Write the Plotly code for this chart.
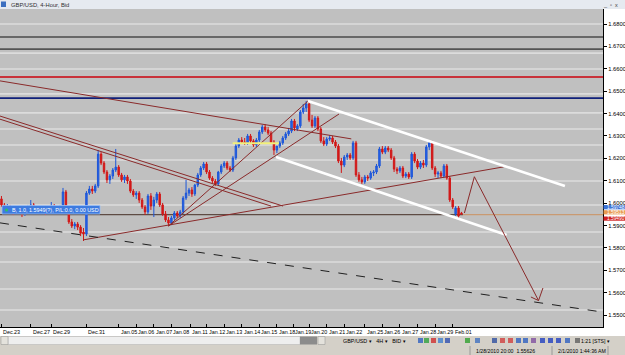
import plotly.graph_objects as go

# ---------------- data (GBP/USD 4-hour bars) ----------------
opens = [1.6019,1.5992,1.5978,1.5987,1.5970,1.5961,1.5974,1.5965,1.5956,1.5970,
         1.5983,1.5992,1.5978,1.5970,1.5974,1.5965,1.5961,1.5974,1.5987,1.5978,
         1.5970,1.5983,1.6050,1.5978,1.5916,1.5898,1.5907,1.5893,1.5871,1.5862,
         1.6045,1.6063,1.6054,1.6077,1.6219,1.6179,1.6139,1.6104,1.6121,1.6148,
         1.6161,1.6126,1.6104,1.6117,1.6099,1.6054,1.6037,1.6045,1.6014,1.5983,
         1.5961,1.6032,1.5987,1.6014,1.6041,1.5992,1.5952,1.5925,1.5911,1.5934,
         1.5956,1.5943,1.5961,1.6023,1.6045,1.6059,1.6041,1.6081,1.6126,1.6157,
         1.6175,1.6139,1.6112,1.6099,1.6086,1.6139,1.6166,1.6179,1.6157,1.6148,
         1.6202,1.6255,1.6282,1.6273,1.6269,1.6300,1.6278,1.6260,1.6282,1.6318,
         1.6340,1.6327,1.6313,1.6273,1.6237,1.6255,1.6269,1.6291,1.6309,1.6322,
         1.6367,1.6331,1.6345,1.6407,1.6425,1.6443,1.6371,1.6345,1.6380,1.6331,
         1.6278,1.6264,1.6286,1.6291,1.6273,1.6255,1.6188,1.6170,1.6206,1.6215,
         1.6202,1.6269,1.6126,1.6104,1.6095,1.6117,1.6112,1.6135,1.6139,1.6166,
         1.6242,1.6228,1.6246,1.6237,1.6202,1.6152,1.6144,1.6157,1.6121,1.6130,
         1.6117,1.6219,1.6188,1.6161,1.6179,1.6170,1.6251,1.6269,1.6157,1.6130,
         1.6135,1.6121,1.6166,1.6112,1.6014,1.5952,1.5978,1.5956]
highs = [1.6032,1.6001,1.5996,1.5992,1.5978,1.5983,1.5987,1.5974,1.5978,1.5992,
         1.6014,1.6001,1.5987,1.5983,1.5983,1.5974,1.5987,1.6005,1.5996,1.5987,
         1.5992,1.6068,1.6059,1.5987,1.5929,1.5916,1.5916,1.5902,1.5889,1.6054,
         1.6077,1.6077,1.6086,1.6237,1.6228,1.6188,1.6148,1.6130,1.6157,1.6242,
         1.6170,1.6135,1.6126,1.6126,1.6108,1.6063,1.6054,1.6054,1.6023,1.5992,
         1.6041,1.6045,1.6028,1.6050,1.6050,1.6001,1.5965,1.5938,1.5943,1.5965,
         1.5965,1.5970,1.6032,1.6104,1.6068,1.6072,1.6086,1.6135,1.6166,1.6184,
         1.6184,1.6148,1.6121,1.6108,1.6144,1.6175,1.6188,1.6188,1.6166,1.6211,
         1.6264,1.6291,1.6295,1.6291,1.6309,1.6309,1.6286,1.6291,1.6327,1.6349,
         1.6353,1.6340,1.6322,1.6282,1.6255,1.6278,1.6300,1.6318,1.6336,1.6376,
         1.6376,1.6353,1.6416,1.6443,1.6456,1.6452,1.6394,1.6389,1.6389,1.6340,
         1.6295,1.6295,1.6304,1.6300,1.6282,1.6264,1.6202,1.6215,1.6224,1.6224,
         1.6278,1.6278,1.6139,1.6117,1.6126,1.6126,1.6144,1.6148,1.6175,1.6251,
         1.6255,1.6255,1.6255,1.6246,1.6211,1.6161,1.6166,1.6166,1.6139,1.6139,
         1.6228,1.6228,1.6197,1.6188,1.6193,1.6260,1.6278,1.6278,1.6166,1.6144,
         1.6144,1.6175,1.6175,1.6121,1.6023,1.5987,1.5987,1.5961]
lows  = [1.5983,1.5965,1.5961,1.5956,1.5947,1.5952,1.5952,1.5938,1.5943,1.5961,
         1.5974,1.5965,1.5956,1.5956,1.5952,1.5947,1.5952,1.5965,1.5961,1.5956,
         1.5956,1.5974,1.5970,1.5907,1.5889,1.5884,1.5880,1.5853,1.5831,1.5853,
         1.6037,1.6041,1.6045,1.6068,1.6170,1.6130,1.6090,1.6086,1.6108,1.6139,
         1.6117,1.6095,1.6090,1.6086,1.6045,1.6028,1.6019,1.6001,1.5974,1.5947,
         1.5952,1.5970,1.5938,1.6001,1.5983,1.5943,1.5916,1.5898,1.5902,1.5925,
         1.5934,1.5934,1.5952,1.6014,1.6032,1.6028,1.6032,1.6072,1.6117,1.6148,
         1.6130,1.6104,1.6090,1.6077,1.6081,1.6130,1.6157,1.6148,1.6139,1.6139,
         1.6193,1.6246,1.6264,1.6260,1.6260,1.6269,1.6251,1.6251,1.6273,1.6309,
         1.6318,1.6304,1.6264,1.6215,1.6224,1.6246,1.6260,1.6282,1.6300,1.6313,
         1.6322,1.6322,1.6336,1.6398,1.6407,1.6362,1.6336,1.6336,1.6322,1.6269,
         1.6255,1.6255,1.6278,1.6264,1.6246,1.6179,1.6135,1.6161,1.6193,1.6193,
         1.6193,1.6117,1.6095,1.6086,1.6086,1.6099,1.6104,1.6121,1.6130,1.6157,
         1.6219,1.6219,1.6228,1.6193,1.6139,1.6130,1.6135,1.6112,1.6112,1.6108,
         1.6108,1.6179,1.6152,1.6152,1.6157,1.6161,1.6237,1.6148,1.6117,1.6112,
         1.6112,1.6112,1.6104,1.6005,1.5974,1.5943,1.5934,1.5947]
closes = [1.5992,1.5978,1.5987,1.5970,1.5961,1.5974,1.5965,1.5956,1.5970,1.5983,
          1.5992,1.5978,1.5970,1.5974,1.5965,1.5961,1.5974,1.5987,1.5978,1.5970,
          1.5983,1.6050,1.5978,1.5916,1.5898,1.5907,1.5893,1.5866,1.5862,1.6045,
          1.6063,1.6054,1.6077,1.6219,1.6179,1.6139,1.6104,1.6121,1.6148,1.6161,
          1.6126,1.6104,1.6117,1.6099,1.6054,1.6037,1.6045,1.6014,1.5983,1.5961,
          1.6032,1.5987,1.6014,1.6041,1.5992,1.5952,1.5925,1.5911,1.5934,1.5956,
          1.5943,1.5961,1.6023,1.6045,1.6059,1.6041,1.6081,1.6126,1.6157,1.6175,
          1.6139,1.6112,1.6099,1.6086,1.6139,1.6166,1.6179,1.6157,1.6148,1.6202,
          1.6255,1.6282,1.6273,1.6269,1.6300,1.6278,1.6260,1.6282,1.6318,1.6340,
          1.6327,1.6313,1.6273,1.6237,1.6255,1.6269,1.6291,1.6309,1.6322,1.6367,
          1.6336,1.6345,1.6407,1.6425,1.6443,1.6371,1.6345,1.6380,1.6331,1.6278,
          1.6264,1.6286,1.6291,1.6273,1.6255,1.6188,1.6170,1.6206,1.6215,1.6202,
          1.6269,1.6126,1.6104,1.6095,1.6117,1.6112,1.6135,1.6139,1.6166,1.6242,
          1.6228,1.6246,1.6237,1.6202,1.6152,1.6144,1.6157,1.6121,1.6130,1.6117,
          1.6219,1.6188,1.6161,1.6179,1.6170,1.6251,1.6269,1.6157,1.6130,1.6135,
          1.6121,1.6166,1.6112,1.6014,1.5983,1.5978,1.5943,1.5952]
bars = list(range(len(closes)))

date_labels = ["Dec.23","Dec.27","Dec.29","Dec.31","Jan.05","Jan.06","Jan.07","Jan.08",
               "Jan.11","Jan.12","Jan.13","Jan.14","Jan.15","Jan.18","Jan.19","Jan.20",
               "Jan.21","Jan.22","Jan.25","Jan.26","Jan.27","Jan.28","Jan.29","Feb.01"]
date_bars = [0,10,17,29,40,46,52,58,64.5,70,76,82,88,94,99.5,105,111,117,124,130,136,142,148,154]

price_ticks = [1.55,1.56,1.57,1.58,1.59,1.60,1.61,1.62,1.63,1.64,1.65,1.66,1.67,1.68]
price_tick_text = ["%.5f" % p for p in price_ticks]

# horizontal levels drawn on the chart
light_levels = [1.6800,1.6670,1.6599,1.6488,1.6403,1.6331,1.6260,1.6193,1.6099,
                1.5992,1.5871,1.5804,1.5737,1.5617,1.5523]
dark_levels = [(1.6742,"#101010",1.2),(1.6688,"#555555",1.8),(1.6563,"#C8323A",2.0),(1.6469,"#10207A",1.6)]

# trend lines: (bar0, price0, bar1, price1, colour, width, dash)
trend_lines = [
    (-0.5,1.6546,119.4,1.6287,"#8A2A2A",1,"solid"),
    (-0.5,1.6389,96.1,1.5987,"#8A2A2A",1,"solid"),
    (-0.5,1.6375,92.0,1.5987,"#8A2A2A",1,"solid"),
    (27.9,1.5836,171.4,1.6162,"#8A2A2A",1,"solid"),
    (57.0,1.5898,104.6,1.6456,"#8A2A2A",1,"solid"),
    (57.0,1.5898,115.2,1.6398,"#8A2A2A",1,"solid"),
    (104.6,1.6456,192.3,1.6077,"#FFFFFF",2.6,"solid"),
    (93.7,1.6206,172.4,1.5858,"#FFFFFF",2.6,"solid"),
    (-0.5,1.5912,206.0,1.5512,"#202020",1,"dash"),
    (78.9,1.6267,94.7,1.6267,"#F2F07A",2,"solid"),
]
proj_bars = [158.0,161.4,183.3]
proj_prices = [1.5956,1.6118,1.5565]
arrow_heads = [(183.3,1.5565,180.7,1.5581),(183.3,1.5565,184.8,1.5621)]
order_price = 1.5949

# ---------------- figure ----------------
W, H = 625, 355
L, R, T, B = 0, 22, 9, 28
PW, PH = W - L - R, H - T - B

def px(x):
    return x / PW

def py(y):
    return (H - B - y) / PH

fig = go.Figure(go.Candlestick(
    x=bars, open=opens, high=highs, low=lows, close=closes,
    increasing=dict(line=dict(color="#1D56D8", width=1), fillcolor="#2A64E8"),
    decreasing=dict(line=dict(color="#D21818", width=1), fillcolor="#D21818"),
    whiskerwidth=0, hoverinfo="skip", showlegend=False))

shapes = []
for lv in light_levels:
    shapes.append(dict(type="line", xref="paper", x0=0, x1=1, yref="y", y0=lv, y1=lv,
                       line=dict(color="#DCDCDC", width=1.6), layer="below"))
for lv, col, w in dark_levels:
    shapes.append(dict(type="line", xref="paper", x0=0, x1=1, yref="y", y0=lv, y1=lv,
                       line=dict(color=col, width=w), layer="below"))
# order line
shapes.append(dict(type="line", xref="x", x0=-0.5, x1=157.5, yref="y", y0=order_price, y1=order_price,
                   line=dict(color="#5E4C44", width=1.4), layer="below"))
shapes.append(dict(type="line", xref="x", x0=157.5, x1=206, yref="y", y0=order_price, y1=order_price,
                   line=dict(color="#C99A72", width=1.4), layer="below"))
for b0, p0, b1, p1, col, w, dash in trend_lines:
    shapes.append(dict(type="line", xref="x", yref="y", x0=b0, y0=p0, x1=b1, y1=p1,
                       line=dict(color=col, width=w, dash=dash)))
for i in range(len(proj_bars) - 1):
    shapes.append(dict(type="line", xref="x", yref="y", x0=proj_bars[i], y0=proj_prices[i],
                       x1=proj_bars[i + 1], y1=proj_prices[i + 1],
                       line=dict(color="#8A2A2A", width=1)))
for b0, p0, b1, p1 in arrow_heads:
    shapes.append(dict(type="line", xref="x", yref="y", x0=b0, y0=p0, x1=b1, y1=p1,
                       line=dict(color="#8A2A2A", width=1)))

# window decorations (outside the plot)
shapes.append(dict(type="rect", xref="paper", yref="paper", x0=0, x1=px(W), y0=py(0), y1=py(9),
                   fillcolor="#E6EAF0", line=dict(width=0)))
shapes.append(dict(type="rect", xref="paper", yref="paper", x0=px(1), x1=px(6), y0=py(1.5), y1=py(7),
                   fillcolor="#3C6FC0", line=dict(width=0)))
shapes.append(dict(type="rect", xref="paper", yref="paper", x0=0, x1=px(W), y0=py(336), y1=py(H),
                   fillcolor="#D4D0C8", line=dict(width=0)))
shapes.append(dict(type="rect", xref="paper", yref="paper", x0=px(8), x1=px(300), y0=py(336.5), y1=py(344.5),
                   fillcolor="#EEEEEE", line=dict(color="#B0B0B0", width=0.5)))
shapes.append(dict(type="rect", xref="paper", yref="paper", x0=px(1), x1=px(8), y0=py(336.5), y1=py(344.5),
                   fillcolor="#E4E2DC", line=dict(color="#909090", width=0.5)))
shapes.append(dict(type="rect", xref="paper", yref="paper", x0=px(300), x1=px(317), y0=py(336.5), y1=py(344.5),
                   fillcolor="#8C8C8C", line=dict(width=0)))
shapes.append(dict(type="rect", xref="paper", yref="paper", x0=px(318), x1=px(325), y0=py(336.5), y1=py(344.5),
                   fillcolor="#E4E2DC", line=dict(color="#909090", width=0.5)))
icon_x = [418, 424, 431, 438, 445, 465, 475, 492, 500, 508, 516, 523, 531, 540, 548, 556, 565, 575]
icon_c = ["#3060C0", "#30A040", "#D03030", "#4080D0", "#3050B0", "#30A030", "#4070C0", "#3050A0",
          "#D04040", "#D04040", "#3060C0", "#3060C0", "#8050A0", "#2040C0", "#2040C0", "#2040C0",
          "#3060C0", "#606060"]
for xi, ci in zip(icon_x, icon_c):
    shapes.append(dict(type="rect", xref="paper", yref="paper", x0=px(xi), x1=px(xi + 5), y0=py(338), y1=py(343),
                       fillcolor=ci, line=dict(width=0), opacity=0.8))
for xs in [470, 552, 608]:
    shapes.append(dict(type="line", xref="paper", yref="paper", x0=px(xs), x1=px(xs), y0=py(346), y1=py(355),
                       line=dict(color="#8C8C8C", width=0.8)))
# tooltip box
shapes.append(dict(type="rect", xref="paper", yref="paper", x0=px(2), x1=px(100), y0=py(205.5), y1=py(214),
                   fillcolor="#3D7BE0", line=dict(color="#9CC0F5", width=0.8)))
shapes.append(dict(type="circle", xref="paper", yref="paper", x0=px(5), x1=px(8), y0=py(208.5), y1=py(211.5),
                   fillcolor="#30C060", line=dict(width=0)))
# price boxes at right axis
for y0, y1, col in [(205, 209.3, "#3E74D8"), (210.2, 214.4, "#E89A50"), (216.5, 220.7, "#D02020")]:
    shapes.append(dict(type="rect", xref="paper", yref="paper", x0=px(603.5), x1=px(W), y0=py(y0), y1=py(y1),
                       fillcolor=col, line=dict(width=0)))

ann = []
font_small = dict(family="Liberation Sans", size=5.4, color="#000000")
for lab, xb in zip(date_labels, date_bars):
    ann.append(dict(x=xb, xref="x", y=py(331.5), yref="paper", text=lab, showarrow=False,
                    xanchor="left", yanchor="middle", font=font_small))
ann.append(dict(x=px(9), xref="paper", y=py(4.5), yref="paper", text="GBP/USD, 4-Hour, Bid", showarrow=False,
                xanchor="left", yanchor="middle", font=dict(family="Liberation Sans", size=5.8, color="#303030")))
ann.append(dict(x=px(620), xref="paper", y=py(4.5), yref="paper", text="_  ▫  x", showarrow=False,
                xanchor="right", yanchor="middle", font=dict(family="Liberation Sans", size=5.5, color="#404040")))
ann.append(dict(x=px(10), xref="paper", y=py(209.8), yref="paper", text="B, 1.0, 1.5949(?), P/L:0.0, 0.00 USD",
                showarrow=False, xanchor="left", yanchor="middle",
                font=dict(family="Liberation Sans", size=5.4, color="#FFFFFF")))
ann.append(dict(x=px(341), xref="paper", y=py(340.5), yref="paper", text="GBP/USD ▾   4H ▾   BID ▾",
                showarrow=False, xanchor="left", yanchor="middle", font=dict(family="Liberation Sans", size=5.4, color="#000000")))
ann.append(dict(x=px(612), xref="paper", y=py(340.5), yref="paper", text="1:21 [STS] ▾",
                showarrow=False, xanchor="right", yanchor="middle", font=dict(family="Liberation Sans", size=5.2, color="#000000")))
ann.append(dict(x=px(474), xref="paper", y=py(350.5), yref="paper", text="1/28/2010 20:00  1.55626",
                showarrow=False, xanchor="left", yanchor="middle", font=dict(family="Liberation Sans", size=5.2, color="#000000")))
ann.append(dict(x=px(556), xref="paper", y=py(350.5), yref="paper", text="2/1/2010 1:44:36 AM",
                showarrow=False, xanchor="left", yanchor="middle", font=dict(family="Liberation Sans", size=5.2, color="#000000")))
for yc, txt, colr in [(207.2, "1.59748", "#FFFFFF"), (212.3, "1.59513", "#FFFFFF"), (218.6, "1.59490", "#FFFFFF")]:
    ann.append(dict(x=px(604.5), xref="paper", y=py(yc), yref="paper", text=txt, showarrow=False,
                    xanchor="left", yanchor="middle", font=dict(family="Liberation Sans", size=4.8, color=colr)))

fig.update_layout(
    width=W, height=H, margin=dict(l=L, r=R, t=T, b=B, autoexpand=False),
    paper_bgcolor="#FFFFFF", plot_bgcolor="#C0C0C0",
    showlegend=False, shapes=shapes, annotations=ann,
    xaxis=dict(range=[-0.5, 205.3], rangeslider=dict(visible=False), showgrid=False, zeroline=False,
               showticklabels=False, tickvals=date_bars, ticks="inside", ticklen=3, tickcolor="#000000",
               showline=True, linecolor="#000000", linewidth=1, fixedrange=True),
    yaxis=dict(range=[1.5447, 1.6867], side="right", showgrid=False, zeroline=False,
               tickvals=price_ticks, ticktext=price_tick_text, ticks="outside", ticklen=3,
               tickcolor="#000000", showline=True, linecolor="#000000", linewidth=1,
               tickfont=dict(family="Liberation Sans", size=5.8, color="#000000"), fixedrange=True),
)

fig.write_html("out.html")
